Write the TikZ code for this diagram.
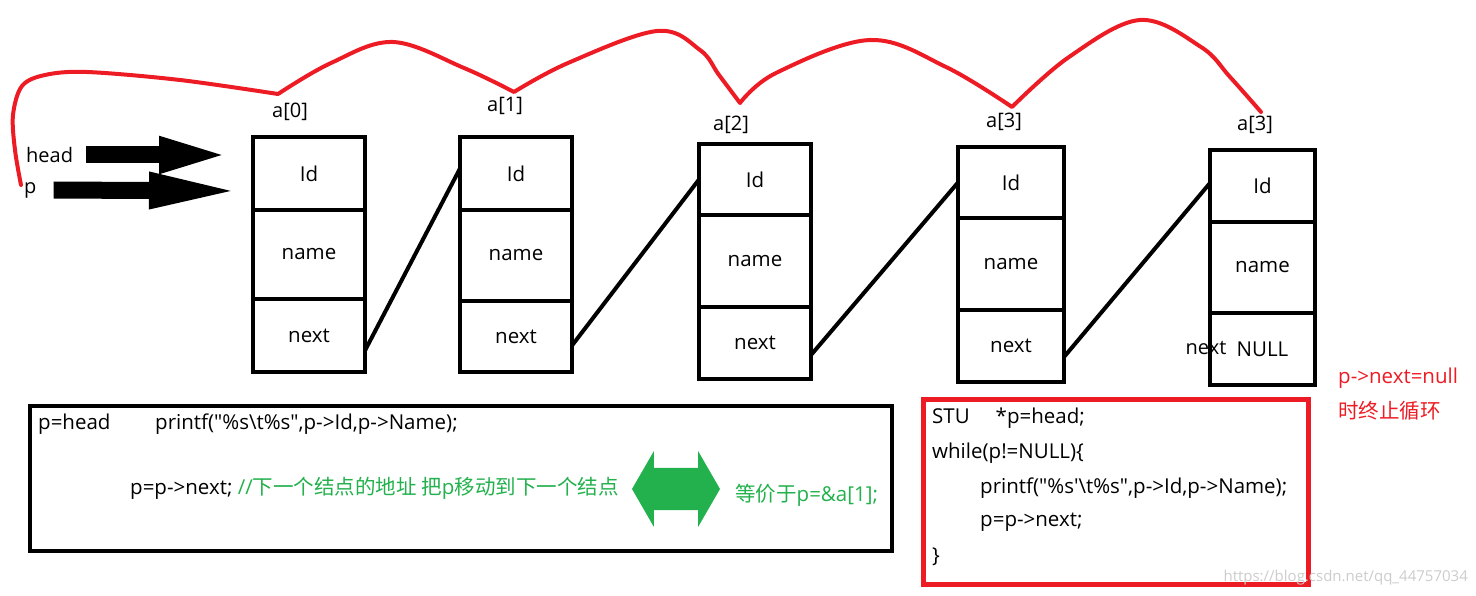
\documentclass[tikz,border=0pt]{standalone}
\usepackage{fontspec}
\setmainfont{Open Sans}
\newfontfamily\cjk{Noto Sans CJK SC}
\usetikzlibrary{arrows.meta,positioning,shapes.arrows}
\definecolor{paintred}{HTML}{ED1C24}
\definecolor{paintgreen}{HTML}{22B14C}
\tikzset{
  cell/.style    ={rectangle,draw,line width=4pt,outer sep=0pt,inner sep=0pt,
                   font=\fontsize{20.5}{24}\selectfont},
  idx/.style     ={inner sep=1pt,font=\fontsize{20}{22}\selectfont},
  code/.style    ={anchor=west,inner sep=0pt,font=\fontsize{20.5}{24}\selectfont},
  frame/.style   ={rectangle,draw,line width=4pt,anchor=north west,inner sep=0pt},
  link/.style    ={line width=4pt},
  fatarrow/.style={line width=17pt},
  chain/.style   ={draw=paintred,line width=4pt,line cap=round,line join=round}
}
\begin{document}
\begin{tikzpicture}[x=1pt,y=-1pt]
  \useasboundingbox (0,0) rectangle (1476,596);

  % Array elements
  \node[cell,anchor=north west,minimum width=112pt,minimum height=73pt] (id0) at (253,137) {Id};
  \node[cell,below=0pt of id0,minimum width=112pt,minimum height=89pt] (name0) {name};
  \node[cell,below=0pt of name0,minimum width=112pt,minimum height=73pt] (next0) {next};

  \node[cell,anchor=north west,minimum width=112pt,minimum height=73pt] (id1) at (460,137) {Id};
  \node[cell,below=0pt of id1,minimum width=112pt,minimum height=91pt] (name1) {name};
  \node[cell,below=0pt of name1,minimum width=112pt,minimum height=71pt] (next1) {next};

  \node[cell,anchor=north west,minimum width=112pt,minimum height=71pt] (id2) at (699,144) {Id};
  \node[cell,below=0pt of id2,minimum width=112pt,minimum height=92pt] (name2) {name};
  \node[cell,below=0pt of name2,minimum width=112pt,minimum height=72pt] (next2) {next};

  \node[cell,anchor=north west,minimum width=106pt,minimum height=71pt] (id3) at (958,147) {Id};
  \node[cell,below=0pt of id3,minimum width=106pt,minimum height=92pt] (name3) {name};
  \node[cell,below=0pt of name3,minimum width=106pt,minimum height=72pt] (next3) {next};

  \node[cell,anchor=north west,minimum width=105pt,minimum height=72pt] (id4) at (1210,150) {Id};
  \node[cell,below=0pt of id4,minimum width=105pt,minimum height=91pt] (name4) {name};
  \node[cell,below=0pt of name4,minimum width=105pt,minimum height=72pt] (next4) {NULL};
  \node[idx] (nextlbl4) at (1206,348) {next};

  % Index labels
  \node[idx] (lbl0) at (290,112) {a[0]};
  \node[idx] (lbl1) at (505,106) {a[1]};
  \node[idx] (lbl2) at (731,125) {a[2]};
  \node[idx] (lbl3) at (1004,122) {a[3]};
  \node[idx] (lbl4) at (1255,125) {a[3]};

  % next pointers
  \draw[link] ([yshift=-15pt]next0.east) -- ([yshift=5pt]id1.west);
  \draw[link] ([yshift=-9pt]next1.east) -- (id2.west);
  \draw[link] ([yshift=-12pt]next2.east) -- (id3.west);
  \draw[link] ([yshift=-11pt]next3.east) -- ([yshift=3pt]id4.west);

  % head and p
  \node[idx,anchor=west] (head) at (25,155) {head};
  \node[idx,anchor=west] (p) at (23,190) {p};
  \coordinate (headtip) at (233,155);
  \coordinate (ptip) at (245,191);
  \draw[fatarrow,-{Triangle[length=74pt,width=32pt]}] ([xshift=12pt]head.east) -- (headtip);
  \draw[fatarrow,-{Triangle[length=96pt,width=32pt]}] ([xshift=16pt]p.east) -- (ptip);

  % p walks along the array
  \draw[chain] plot[smooth,tension=0.55] coordinates {(21,185) (15,150) (13,115) (22,86) (45,75) (87,72) (180,80) (278,94)}
    -- plot[smooth,tension=0.6] coordinates {(278,94) (331,63) (393,42) (464,68) (514,92)}
    -- plot[smooth,tension=0.6] coordinates {(514,92) (568,63) (657,31) (700,50) (719,75) (740,103)}
    -- plot[smooth,tension=0.6] coordinates {(740,103) (776,73) (870,40) (946,67) (1012,107)}
    -- plot[smooth,tension=0.6] coordinates {(1012,107) (1069,57) (1140,20) (1201,47) (1230,77) (1261,112)};

  % Step box
  \node[frame,minimum width=862pt,minimum height=145pt] (stepbox) at (28,404) {};
  \node[code] (phead) at (38,424) {p=head};
  \node[code] (printa) at (155,424) {printf(\textquotedbl\%s\textbackslash t\%s\textquotedbl,p->Id,p->Name);};
  \node[code] (pnext) at (130,488) {p=p->next; \textcolor{paintgreen}{//{\cjk 下一个结点的地址 把}p{\cjk 移动到下一个结点}}};
  \node[double arrow,fill=paintgreen,inner xsep=0pt,inner ysep=21pt,minimum height=88pt,
        double arrow head extend=16.5pt,double arrow tip angle=120] (equiv) at (676,489) {};
  \node[code,text=paintgreen] (same) at (735,495) {{\cjk 等价于}p=\&a[1];};

  % Loop box
  \node[frame,draw=paintred,line width=4.5pt,minimum width=385pt,minimum height=185pt] (loopbox) at (921,397) {};
  \node[code] (decl) at (932,418) {STU\hspace{26pt}*p=head;};
  \node[code] (loop) at (932,453) {while(p!=NULL)\{};
  \node[code] (printb) at (980,488) {printf(\textquotedbl\%s\textquotesingle\textbackslash t\%s\textquotedbl,p->Id,p->Name);};
  \node[code] (step) at (980,522) {p=p->next;};
  \node[code] (close) at (932,557) {\}};

  % End condition
  \node[code,text=paintred] (endnote) at (1338,378) {p->next=null};
  \node[code,text=paintred] (endnote2) at (1338,411) {\cjk 时终止循环};

  \node[anchor=east,inner sep=0pt,text=gray!40,font=\fontsize{15}{18}\selectfont] (wm) at (1468,578) {https://blog.csdn.net/qq\_44757034};
\end{tikzpicture}
\end{document}
